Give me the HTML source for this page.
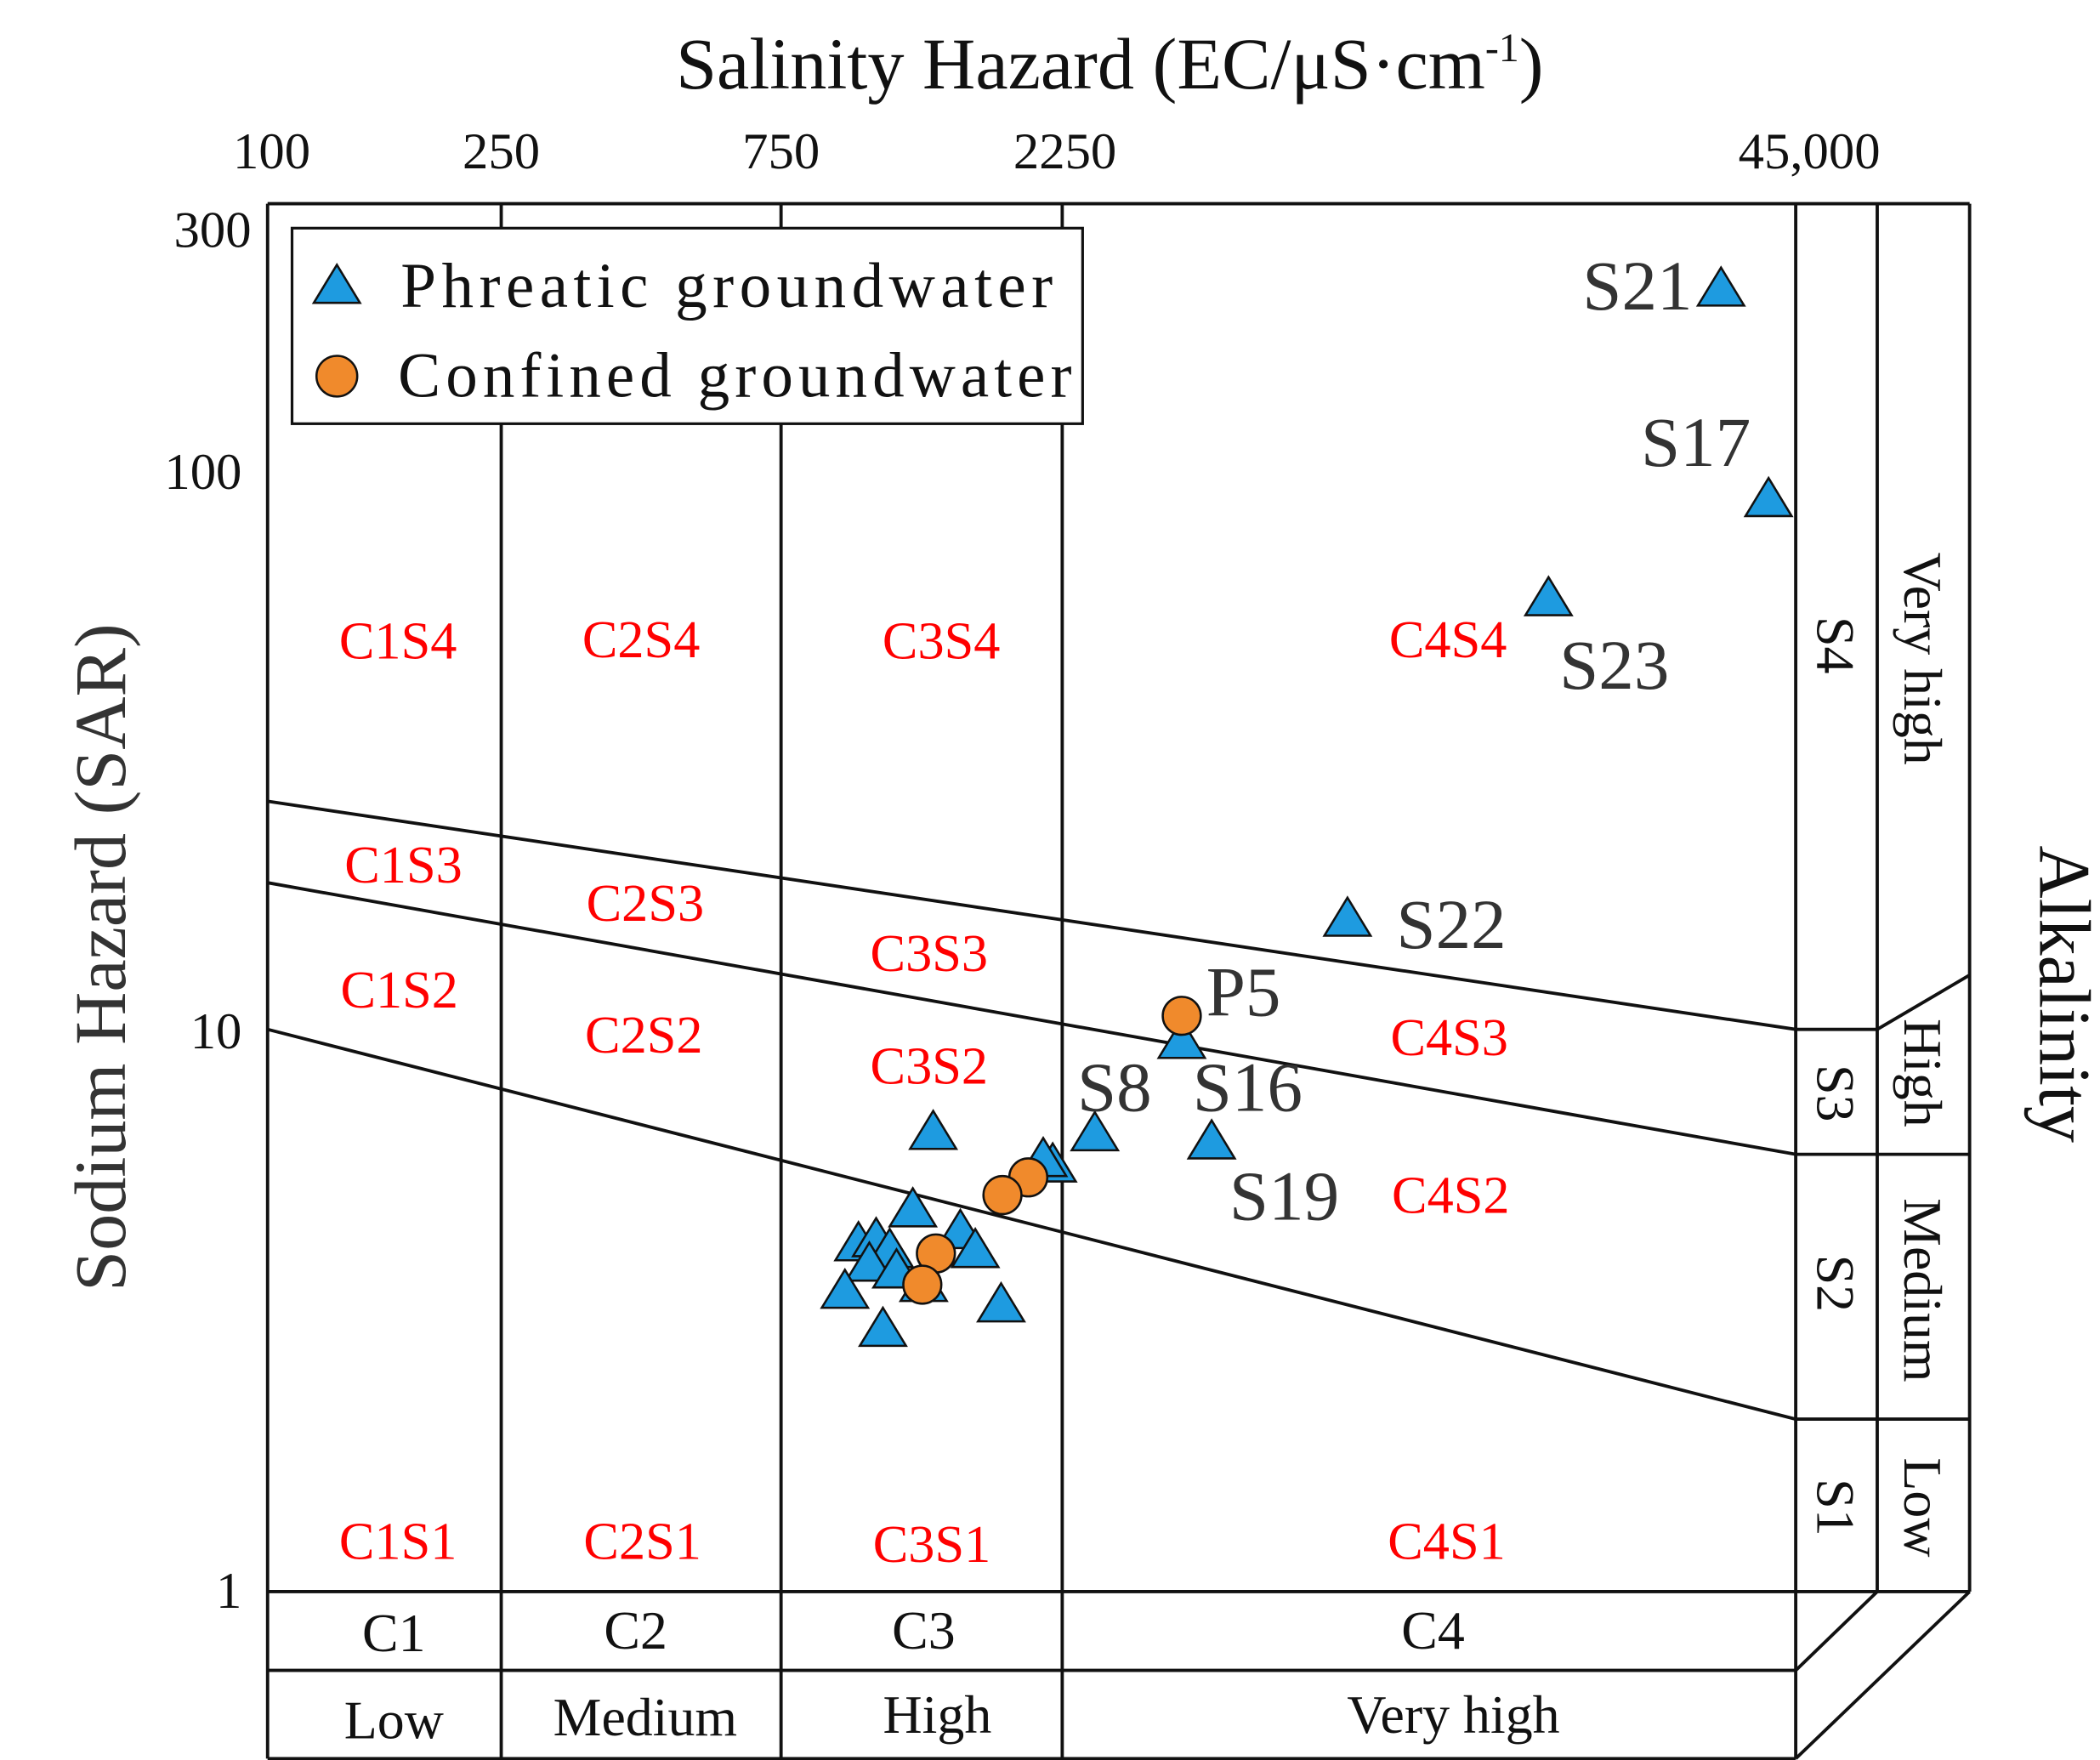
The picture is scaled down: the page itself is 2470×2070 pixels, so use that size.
<!DOCTYPE html>
<html><head><meta charset="utf-8"><style>html,body{margin:0;padding:0;background:#fff}svg{display:block}</style></head>
<body>
<svg width="2470" height="2070" viewBox="0 0 1546 1296" preserveAspectRatio="none" xmlns="http://www.w3.org/2000/svg" font-family="Liberation Serif, serif">
<defs>
<symbol id="tri" viewBox="-18 -16 36 32" overflow="visible"><polygon points="0,-15 17,13 -17,13" fill="#1E9BE0" stroke="#111" stroke-width="1.6"/></symbol>
</defs>
<g stroke="#111" stroke-width="2.4" fill="none">
<line x1="197" y1="150" x2="1450" y2="150"/>
<line x1="197" y1="150" x2="197" y2="1295"/>
<line x1="369" y1="150" x2="369" y2="1295"/>
<line x1="575" y1="150" x2="575" y2="1295"/>
<line x1="782" y1="150" x2="782" y2="1295"/>
<line x1="1322" y1="150" x2="1322" y2="1295"/>
<line x1="1382" y1="150" x2="1382" y2="1172"/>
<line x1="1450" y1="150" x2="1450" y2="1172"/>
<line x1="197" y1="1172" x2="1450" y2="1172"/>
<line x1="197" y1="1230" x2="1322" y2="1230"/>
<line x1="197" y1="1295" x2="1322" y2="1295"/>
<polyline points="1322,758 1382,758 1450,718"/>
<line x1="1322" y1="850" x2="1450" y2="850"/>
<line x1="1322" y1="1045" x2="1450" y2="1045"/>
<line x1="1322" y1="1230" x2="1382" y2="1172"/>
<line x1="1322" y1="1295" x2="1450" y2="1172"/>
<line x1="197" y1="590" x2="1322" y2="758"/>
<line x1="197" y1="650" x2="1322" y2="850"/>
<line x1="197" y1="758" x2="1322" y2="1045"/>
</g>
<g font-size="38" fill="#111" text-anchor="middle">
<text x="200" y="124">100</text><text x="369" y="124">250</text><text x="575" y="124">750</text><text x="784" y="124">2250</text><text x="1332" y="124">45,000</text>
</g>
<g font-size="38" fill="#111" text-anchor="end">
<text x="185" y="182">300</text><text x="178" y="360">100</text><text x="178" y="772">10</text><text x="178" y="1184">1</text>
</g>
<text x="817" y="65" font-size="54" text-anchor="middle" fill="#111">Salinity Hazard (EC/μS·cm<tspan font-size="30" dy="-20">-1</tspan><tspan dy="20">)</tspan></text>
<text transform="translate(92,705) rotate(-90)" font-size="54" text-anchor="middle" fill="#333">Sodium Hazard (SAR)</text>
<text transform="translate(1502,732) rotate(90)" font-size="54" text-anchor="middle" fill="#111">Alkalinity</text>
<g font-size="40" fill="#111" text-anchor="middle">
<text x="290" y="1216">C1</text><text x="468" y="1214">C2</text><text x="680" y="1214">C3</text><text x="1055" y="1214">C4</text>
<text x="290" y="1280">Low</text><text x="475" y="1278">Medium</text><text x="690" y="1276">High</text><text x="1070" y="1276">Very high</text>
</g>
<g font-size="40" fill="#111" text-anchor="middle">
<text transform="translate(1338,475) rotate(90)">S4</text>
<text transform="translate(1338,805) rotate(90)">S3</text>
<text transform="translate(1338,945) rotate(90)">S2</text>
<text transform="translate(1338,1110) rotate(90)">S1</text>
<text transform="translate(1402,485) rotate(90)">Very high</text>
<text transform="translate(1402,790) rotate(90)">High</text>
<text transform="translate(1402,950) rotate(90)">Medium</text>
<text transform="translate(1402,1110) rotate(90)">Low</text>
</g>
<g font-size="39" fill="#f00" text-anchor="middle">
<text x="293" y="485">C1S4</text><text x="472" y="484">C2S4</text><text x="693" y="485">C3S4</text><text x="1066" y="484">C4S4</text>
<text x="297" y="650">C1S3</text><text x="475" y="678">C2S3</text><text x="684" y="715">C3S3</text>
<text x="294" y="742">C1S2</text><text x="474" y="775">C2S2</text><text x="684" y="798">C3S2</text><text x="1067" y="777">C4S3</text><text x="1068" y="893">C4S2</text>
<text x="293" y="1148">C1S1</text><text x="473" y="1148">C2S1</text><text x="686" y="1150">C3S1</text><text x="1065" y="1148">C4S1</text>
</g>
<rect x="215" y="168" width="582" height="144" fill="#fff" stroke="#111" stroke-width="2"/>
<use href="#tri" x="230" y="194" width="36" height="32"/>
<circle cx="248" cy="277" r="15" fill="#F08A2C" stroke="#111" stroke-width="1.6"/>
<g font-size="47" fill="#111"><text x="295" y="226" textLength="480">Phreatic groundwater</text><text x="293" y="292" textLength="496">Confined groundwater</text></g>
<g>
<use href="#tri" x="1249" y="196" width="36" height="32"/>
<use href="#tri" x="1284" y="351" width="36" height="32"/>
<use href="#tri" x="1122" y="424" width="36" height="32"/>
<use href="#tri" x="974" y="660" width="36" height="32"/>
<use href="#tri" x="852" y="750" width="36" height="32"/>
<use href="#tri" x="788" y="818" width="36" height="32"/>
<use href="#tri" x="874" y="824" width="36" height="32"/>
<use href="#tri" x="669" y="817" width="36" height="32"/>
<use href="#tri" x="757" y="841" width="36" height="32"/>
<use href="#tri" x="750" y="837" width="36" height="32"/>
<use href="#tri" x="654" y="874" width="36" height="32"/>
<use href="#tri" x="614" y="899" width="36" height="32"/>
<use href="#tri" x="627" y="896" width="36" height="32"/>
<use href="#tri" x="637" y="904" width="36" height="32"/>
<use href="#tri" x="689" y="890" width="36" height="32"/>
<use href="#tri" x="700" y="904" width="36" height="32"/>
<use href="#tri" x="622" y="914" width="36" height="32"/>
<use href="#tri" x="642" y="919" width="36" height="32"/>
<use href="#tri" x="662" y="929" width="36" height="32"/>
<use href="#tri" x="604" y="934" width="36" height="32"/>
<use href="#tri" x="632" y="962" width="36" height="32"/>
<use href="#tri" x="719" y="944" width="36" height="32"/>
</g>
<g fill="#F08A2C" stroke="#111" stroke-width="1.6">
<circle cx="870" cy="748" r="14"/><circle cx="757" cy="867" r="14"/><circle cx="738" cy="880" r="14"/><circle cx="689" cy="923" r="14"/><circle cx="679" cy="946" r="14"/>
</g>
<g font-size="52" fill="#333">
<text x="1165" y="228">S21</text><text x="1208" y="343">S17</text><text x="1148" y="507">S23</text><text x="1028" y="698">S22</text>
<text x="888" y="748">P5</text><text x="793" y="818">S8</text><text x="878" y="818">S16</text><text x="905" y="898">S19</text>
</g>
</svg>
</body></html>
